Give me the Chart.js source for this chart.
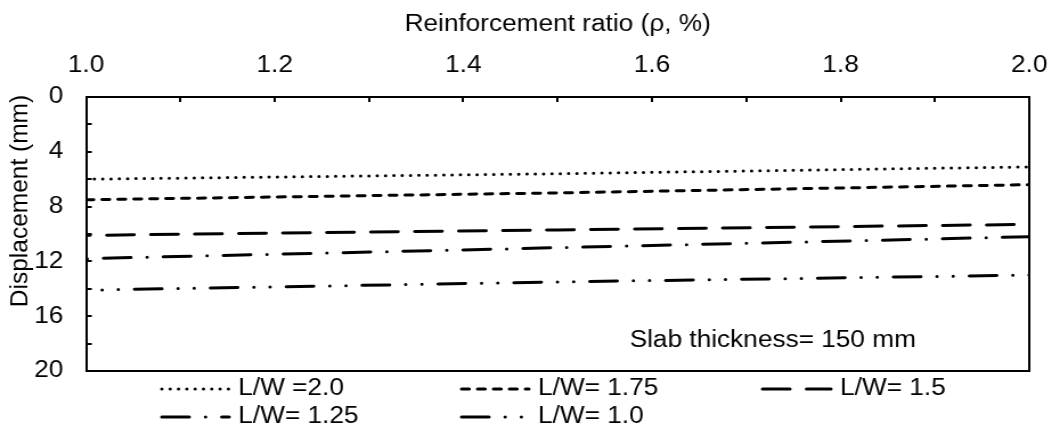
<!DOCTYPE html>
<html>
<head>
<meta charset="utf-8">
<script src="https://cdn.jsdelivr.net/npm/chart.js@4.4.1/dist/chart.umd.min.js"></script>
<style>
  html, body { margin: 0; padding: 0; background: #fff; }
  #chart { display: block; }
</style>
</head>
<body>
<canvas id="chart" width="930" height="431" style="width:1060px;height:431px"></canvas>
<script>
// reinforcement ratio (%) and mid-span displacement (mm) for each L/W
const ratio = [1.0, 1.5, 2.0];
const dispLW20 = [6.0, 5.6, 5.1];
const dispLW175 = [7.5, 7.0, 6.4];
const dispLW15 = [10.1, 9.7, 9.3];
const dispLW125 = [11.8, 11.0, 10.2];
const dispLW10 = [14.1, 13.5, 13.0];
const seriesNames = ['L/W =2.0', 'L/W= 1.75', 'L/W= 1.5', 'L/W= 1.25', 'L/W= 1.0'];

const FONT = '"Liberation Sans", Arial, sans-serif';
const STRETCH = 1060 / 930;

function pts(ys) {
    return ratio.map((x, i) => ({x: x, y: ys[i]}));
}

function line(label, ys, dash, offset) {
    return {
        label: label,
        data: pts(ys),
        borderColor: '#000',
        borderWidth: 3,
        borderDash: dash,
        borderDashOffset: offset,
        borderCapStyle: 'round',
        pointRadius: 0,
        fill: false,
        tension: 0
    };
}

// legend in a 3-column grid + the slab note + rotated y title
const extras = {
    id: 'extras',
    afterDraw(chart) {
        const ctx = chart.ctx;
        const area = chart.chartArea;
        const sampleX = [142, 405, 669];
        const textX = [209, 472, 737];
        const rowY = [389, 417];
        ctx.save();
        ctx.font = '23px ' + FONT;
        ctx.fillStyle = '#000';
        ctx.textBaseline = 'middle';
        chart.data.datasets.forEach((ds, i) => {
            const col = i % 3, row = Math.floor(i / 3);
            const y = rowY[row];
            ctx.save();
            ctx.strokeStyle = '#000';
            ctx.lineWidth = 3;
            ctx.lineCap = 'round';
            ctx.setLineDash(ds.borderDash);
            ctx.beginPath();
            ctx.moveTo(sampleX[col], y);
            ctx.lineTo(textX[col] - 8, y);
            ctx.stroke();
            ctx.restore();
            ctx.textAlign = 'left';
            ctx.fillText(ds.label, textX[col], y);
        });

        ctx.textAlign = 'center';
        ctx.fillText('Slab thickness= 150 mm', 678, area.bottom - 30);

        // y title is drawn unstretched
        ctx.translate(18, 201);
        ctx.scale(1 / STRETCH, 1);
        ctx.rotate(-Math.PI / 2);
        ctx.font = '24.5px ' + FONT;
        ctx.fillText('Displacement (mm)', 0, 0);
        ctx.restore();
    }
};

const ctx = document.getElementById('chart').getContext('2d');
const myChart = new Chart(ctx, {
    type: 'line',
    data: {
        datasets: [
            line(seriesNames[0], dispLW20, [0, 7.3], 0),
            line(seriesNames[1], dispLW175, [6.6, 7.4], 0),
            line(seriesNames[2], dispLW15, [24, 14.6], 20.4),
            line(seriesNames[3], dispLW125, [24, 14.3, 0, 14.3], 37.3),
            line(seriesNames[4], dispLW10, [24, 14.2, 0, 14.2, 0, 14.2], 24.1)
        ]
    },
    options: {
        responsive: false,
        animation: false,
        layout: { padding: { left: 0, top: 0, right: 27, bottom: 60 } },
        plugins: {
            legend: { display: false },
            tooltip: { enabled: false }
        },
        scales: {
            x: {
                type: 'linear',
                position: 'top',
                min: 1,
                max: 2,
                afterFit(s) {
                    s.height = 97;
                    s.paddingLeft = 0;
                    s.paddingRight = 0;
                },
                ticks: {
                    stepSize: 0.1,
                    padding: 23,
                    maxRotation: 0,
                    autoSkip: false,
                    color: '#000',
                    font: { family: FONT, size: 23 },
                    callback: v => Math.round(v * 10) % 2 === 0 ? v.toFixed(1) : ''
                },
                grid: { drawOnChartArea: false, tickLength: -5, color: '#000', lineWidth: 2 },
                border: { color: '#000', width: 2 },
                title: {
                    display: true,
                    text: 'Reinforcement ratio (\u03c1, %)',
                    color: '#000',
                    font: { family: FONT, size: 23 },
                    padding: { top: 11, bottom: 0 }
                }
            },
            y: {
                position: 'left',
                reverse: true,
                min: 0,
                max: 20,
                afterFit(s) { s.width = 75.5; },
                ticks: {
                    stepSize: 2,
                    padding: 25,
                    autoSkip: false,
                    color: '#000',
                    font: { family: FONT, size: 23 },
                    callback: v => v % 4 === 0 ? v : ''
                },
                grid: { drawOnChartArea: false, tickLength: -5, color: '#000', lineWidth: 2 },
                border: { color: '#000', width: 2 }
            },
            x2: {
                type: 'linear',
                position: 'bottom',
                min: 1,
                max: 2,
                afterFit(s) { s.height = 0; },
                ticks: { display: false },
                grid: { display: false, drawTicks: false },
                border: { color: '#000', width: 2 }
            },
            y2: {
                position: 'right',
                min: 0,
                max: 20,
                afterFit(s) { s.width = 0; },
                ticks: { display: false },
                grid: { display: false, drawTicks: false },
                border: { color: '#000', width: 2 }
            }
        }
    },
    plugins: [extras]
});
</script>
</body>
</html>
